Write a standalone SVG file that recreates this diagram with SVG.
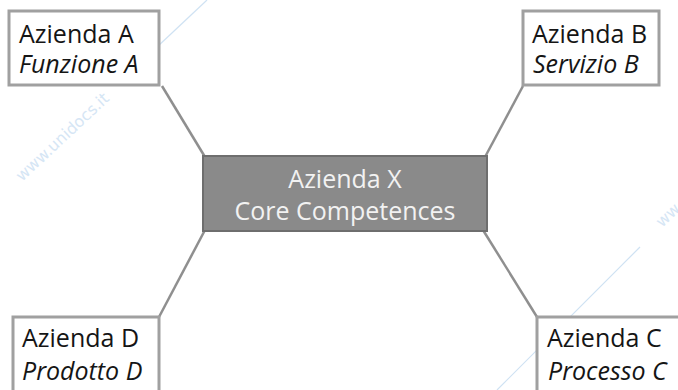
<svg xmlns="http://www.w3.org/2000/svg" width="678" height="390" viewBox="0 0 678 390">
  <style>
    .box { fill: #ffffff; stroke: #a0a0a0; stroke-width: 3; }
    .core { fill: #8a8a8a; stroke: #6e6e6e; stroke-width: 2; }
    .t { font-family: "Open Sans", "DejaVu Sans", sans-serif; font-size: 25px; fill: #151515; }
    .i { font-style: italic; }
    .ct { font-family: "Open Sans", "DejaVu Sans", sans-serif; font-size: 25px; fill: #f2f2f2; text-anchor: middle; }
    .conn { stroke: #8f8f8f; stroke-width: 2.5; fill: none; }
    .wm { stroke: #cfe2f3; stroke-width: 1.2; fill: none; }
    .wmt { font-family: "DejaVu Sans", Verdana, sans-serif; font-size: 16px; fill: #d6e6f5; }
  </style>
  <rect width="678" height="390" fill="#ffffff"/>
  <g id="watermark">
    <line class="wm" x1="207" y1="0" x2="140" y2="63"/>
    <line class="wm" x1="640" y1="247" x2="497" y2="390"/>
    <text class="wmt" transform="translate(22,182) rotate(-43)">www.unidocs.it</text>
    <text class="wmt" transform="translate(662,228) rotate(-43)">ww</text>
  </g>
  <g id="connectors">
    <line class="conn" x1="162" y1="86" x2="205" y2="157"/>
    <line class="conn" x1="523" y1="86" x2="485" y2="157"/>
    <line class="conn" x1="205" y1="230" x2="159" y2="317"/>
    <line class="conn" x1="483" y1="230" x2="537" y2="317"/>
  </g>
  <g id="nodeA">
    <rect class="box" x="9" y="11" width="150" height="74"/>
    <text class="t" x="19" y="43">Azienda A</text>
    <text class="t i" x="19" y="73">Funzione A</text>
  </g>
  <g id="nodeB">
    <rect class="box" x="523" y="11" width="136" height="74"/>
    <text class="t" x="532" y="43">Azienda B</text>
    <text class="t i" x="533" y="73">Servizio B</text>
  </g>
  <g id="nodeX">
    <rect class="core" x="203" y="156" width="284" height="75"/>
    <text class="ct" x="345" y="188">Azienda X</text>
    <text class="ct" x="345" y="220">Core Competences</text>
  </g>
  <g id="nodeD">
    <rect class="box" x="13" y="317" width="146" height="80"/>
    <text class="t" x="22" y="347">Azienda D</text>
    <text class="t i" x="22" y="380">Prodotto D</text>
  </g>
  <g id="nodeC">
    <rect class="box" x="537" y="317" width="150" height="80"/>
    <text class="t" x="547" y="347">Azienda C</text>
    <text class="t i" x="548" y="380">Processo C</text>
  </g>
</svg>
